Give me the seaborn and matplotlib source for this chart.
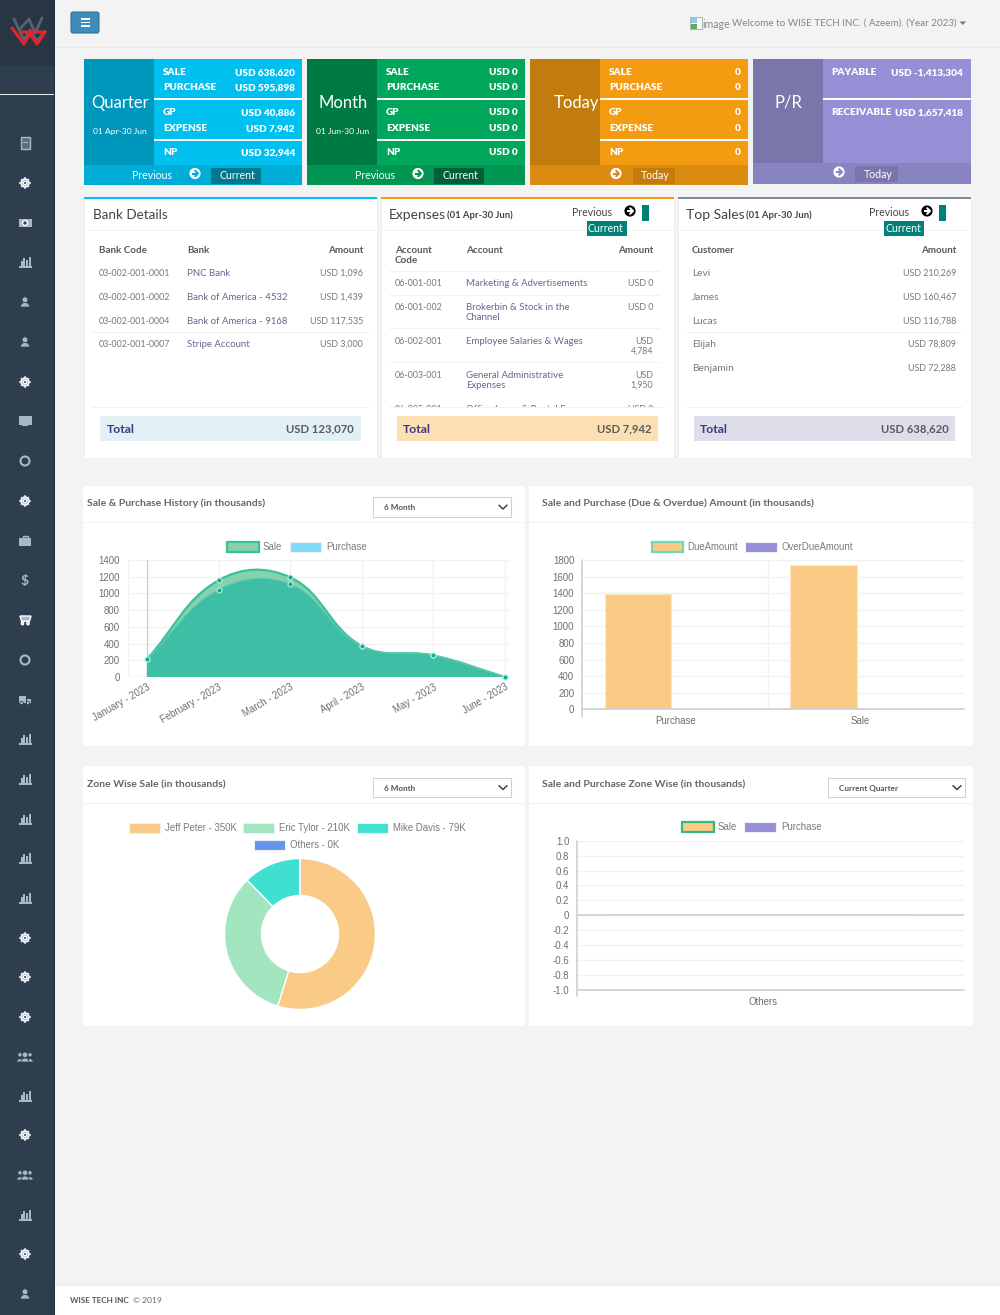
import numpy as np
import pandas as pd
import matplotlib
matplotlib.use("Agg")
import matplotlib.pyplot as plt
from matplotlib import patches
from matplotlib.path import Path as MplPath
import seaborn as sns

W, H = 1000, 1315
UI_FONT = ["Lato", "DejaVu Sans"]
CHART_FONT = "Liberation Sans"

sns.set_theme(style="white")
plt.rcParams["font.family"] = UI_FONT

PALETTE = {
    "page": "#F3F3F3", "side": "#2F3E4F", "side_top": "#283644", "icon": "#A9B8C8",
    "sand": "#F9CB86", "mint": "#A2E5BF", "turq": "#40E0D0", "blue": "#6495ED",
    "violet": "#9590D6", "sale": "#86D2AC", "sale_line": "#38C29C", "purchase": "#3EBFA5",
    "grid": "#F1F1F1", "axis": "#CFCFCF", "tick": "#6E6E6E", "link": "#66668F",
}

# ---- data ----
MONTHS = ["January - 2023", "February - 2023", "March - 2023", "April - 2023", "May - 2023", "June - 2023"]
SALE = [212, 1157, 1193, 371, 258, 0]
PURCHASE = [212, 1043, 1112, 371, 258, 0]

DUE = pd.DataFrame({
    "kind": ["Purchase", "Sale", "Purchase", "Sale"],
    "series": ["DueAmount", "DueAmount", "OverDueAmount", "OverDueAmount"],
    "amount": [1392, 1735, 0, 0],
})
ZONE_SALE = {"Jeff Peter": 350, "Eric Tylor": 210, "Mike Davis": 79, "Others": 0}
ZONE = pd.DataFrame({"zone": ["Others", "Others"], "series": ["Sale", "Purchase"], "amount": [0, 0]})

CARDS = [
    dict(x=84, title="Quarter", span="01 Apr-30 Jun", dark="#0097BC", main="#00C0EF", foot="#00ADD7", btn="#00788E",
         vals=["USD 638,620", "USD 595,898", "USD 40,886", "USD 7,942", "USD 32,944"]),
    dict(x=307, title="Month", span="01 Jun-30 Jun", dark="#007A43", main="#00A65A", foot="#009551", btn="#005F38",
         vals=["USD 0"] * 5),
    dict(x=530, title="Today", span=None, dark="#C27C0E", main="#F39C12", foot="#DB8C10", btn="#C27C0E",
         vals=["0"] * 5),
]
ROW_LABELS = ["SALE", "PURCHASE", "GP", "EXPENSE", "NP"]
ROW_Y = [72, 87, 112, 128, 152]

BANKS = [
    ("03-002-001-0001", "PNC Bank", "USD 1,096"),
    ("03-002-001-0002", "Bank of America - 4532", "USD 1,439"),
    ("03-002-001-0004", "Bank of America - 9168", "USD 117,535"),
    ("03-002-001-0007", "Stripe Account", "USD 3,000"),
]
EXPENSES = [
    (283, "06-001-001", "Marketing & Advertisements", "USD 0"),
    (307, "06-001-002", "Brokerbin & Stock in the\nChannel", "USD 0"),
    (341, "06-002-001", "Employee Salaries & Wages", "USD\n4,784"),
    (375, "06-003-001", "General Administrative\nExpenses", "USD\n1,950"),
    (409, "06-005-001", "Office Lease & Rental E", "USD 0"),
]
TOP_SALES = [("Levi", "USD 210,269"), ("James", "USD 160,467"), ("Lucas", "USD 116,788"),
             ("Elijah", "USD 78,809"), ("Benjamin", "USD 72,288")]

fig = plt.figure(figsize=(W / 100, H / 100), dpi=100, facecolor=PALETTE["page"])
page = fig.add_axes([0, 0, 1, 1])
page.set_xlim(0, W)
page.set_ylim(H, 0)
page.axis("off")


def rect(x0, y0, x1, y1, color, edge="none", lw=0, z=1):
    page.add_patch(patches.Rectangle((x0, y0), x1 - x0, y1 - y0, facecolor=color, edgecolor=edge, linewidth=lw, zorder=z))


def label(x, y, s, size=6.9, color="#777777", weight="normal", ha="left", va="center", family=None, linespacing=1.0):
    page.text(x, y + 0.5, s, fontsize=size, color=color, fontweight=weight, ha=ha, va=va, zorder=6,
              family=family or UI_FONT, linespacing=linespacing)


def arrow_btn(cx, cy, fg="white", bg="#00ADD7", r=5.6):
    page.add_patch(patches.Circle((cx, cy), r, facecolor=fg, edgecolor="none", zorder=5))
    page.plot([cx - 3, cx + 3], [cy, cy], color=bg, lw=1.5, zorder=6, solid_capstyle="butt")
    page.plot([cx + 0.2, cx + 3, cx + 0.2], [cy - 2.8, cy, cy + 2.8], color=bg, lw=1.5, zorder=6)


def px_axes(x0, y0, x1, y1):
    ax = fig.add_axes([x0 / W, 1 - y1 / H, (x1 - x0) / W, (y1 - y0) / H])
    ax.patch.set_alpha(0)
    return ax


def icon(kind, cx, cy):
    c = PALETTE["icon"]
    if kind == "bars":
        for dx, h in zip([-4.2, -1.6, 1, 3.6], [5, 8, 6, 9]):
            rect(cx + dx, cy + 4 - h, cx + dx + 2, cy + 4, c, z=2)
        rect(cx - 6, cy + 4.4, cx + 6.5, cy + 5.6, c, z=2)
    elif kind == "gear":
        for a in np.arange(0, np.pi, np.pi / 4):
            dx, dy = 5.6 * np.cos(a), 5.6 * np.sin(a)
            page.plot([cx - dx, cx + dx], [cy - dy, cy + dy], color=c, lw=1.5, zorder=2, solid_capstyle="butt")
        page.add_patch(patches.Circle((cx, cy), 4, facecolor=c, zorder=3))
        page.add_patch(patches.Circle((cx, cy), 1.7, facecolor=PALETTE["side"], zorder=4))
    elif kind == "circle":
        page.add_patch(patches.Circle((cx, cy), 4.5, facecolor="none", edgecolor=c, linewidth=1.5, zorder=2))
    elif kind == "dollar":
        label(cx, cy, "$", size=10, color=c, weight="bold", ha="center")
    elif kind in ("user", "users"):
        offs = [(-5, 3.2, 2.1), (5, 3.2, 2.1), (0, 4, 2.7)] if kind == "users" else [(0, 4.6, 2.9)]
        for dx, hw, hr in offs:
            page.add_patch(patches.Circle((cx + dx, cy - 2.2), hr, facecolor=c, edgecolor=PALETTE["side"], linewidth=0.5, zorder=3))
            page.add_patch(patches.Wedge((cx + dx, cy + 5), hw, 180, 360, facecolor=c, edgecolor=PALETTE["side"], linewidth=0.5, zorder=3))
    elif kind == "calc":
        rect(cx - 4.5, cy - 6, cx + 4.5, cy + 6, "#5B6D7F", c, 1, 2)
        for dy in (-3.5, -1, 1.5):
            rect(cx - 2.5, cy + dy, cx + 2.5, cy + dy + 0.8, c, z=3)
    elif kind == "money":
        rect(cx - 6.5, cy - 4, cx + 6.5, cy + 4, c, z=2)
        page.add_patch(patches.Circle((cx, cy), 2.4, facecolor=PALETTE["side"], zorder=3))
    elif kind == "monitor":
        rect(cx - 6.5, cy - 5, cx + 6.5, cy + 3.5, c, z=2)
        rect(cx - 3, cy + 4.2, cx + 3, cy + 5.4, c, z=2)
    elif kind == "case":
        rect(cx - 6, cy - 3, cx + 6, cy + 5, c, z=2)
        rect(cx - 2.5, cy - 5, cx + 2.5, cy - 3, "none", c, 1, 2)
    elif kind == "cart":
        page.add_patch(patches.Polygon([(cx - 5, cy - 4), (cx + 6, cy - 4), (cx + 4.5, cy + 1.2), (cx - 3.5, cy + 1.2)],
                                       facecolor=c, zorder=2))
        for dx in (-2.5, 3):
            page.add_patch(patches.Circle((cx + dx, cy + 3.5), 1.2, facecolor=c, zorder=2))
    elif kind == "truck":
        rect(cx - 6.5, cy - 4, cx + 1, cy + 2.5, c, z=2)
        rect(cx + 1.5, cy - 1.5, cx + 6, cy + 2.5, c, z=2)
        for dx in (-3.5, 3):
            page.add_patch(patches.Circle((cx + dx, cy + 3), 1.7, facecolor=c, edgecolor=PALETTE["side"], linewidth=0.5, zorder=3))


# ---- sidebar and header ----
rect(0, 0, 55, H, PALETTE["side"])
rect(0, 0, 55, 66, PALETTE["side_top"])
rect(0, 94, 55, 95.2, "#E6E9EC", z=2)
rect(54.4, 0, 55, H, "#22303D", z=2)
page.plot([14, 24, 30, 37, 45], [19, 40, 30, 41, 31], color="#59636F", lw=2, zorder=3)
page.plot([19, 29, 35, 42], [30, 19, 33, 18], color="#59636F", lw=2, zorder=3)
page.plot([12, 24, 30, 37, 45, 22], [28, 44, 34, 44, 32, 32], color="#E9212B", lw=2.2, zorder=4)

ICONS = ["calc", "gear", "money", "bars", "user", "user", "gear", "monitor", "circle", "gear", "case", "dollar",
         "cart", "circle", "truck", "bars", "bars", "bars", "bars", "bars", "gear", "gear", "gear", "users", "bars",
         "gear", "users", "bars", "gear", "user"]
ICON_Y = [143, 183, 223, 262, 302, 342, 382, 421, 461, 501, 541, 580, 620, 660, 700, 739, 779, 819, 858, 898, 938,
          977, 1017, 1057, 1096, 1135, 1175, 1215, 1254, 1294]
for kind, y in zip(ICONS, ICON_Y):
    icon(kind, 25, y)

rect(55, 47, W, 48, "#E9E9E9")
page.add_patch(patches.FancyBboxPatch((71, 12), 28, 21, boxstyle="round,pad=0,rounding_size=2", facecolor="#3F8BBA",
                                      edgecolor="#34739B", linewidth=0.8, zorder=2))
for y in (19, 22.5, 26):
    rect(80.5, y - 0.8, 90, y + 0.8, "white", z=3)
rect(690, 17, 702, 29, "#F7F9FB", "#A9B4BE", 0.7)
rect(691, 24, 697, 28.5, "#5FAF55", z=2)
rect(691, 18, 697, 23, "#9CC3EE", z=2)
label(702, 23.5, "image", size=7.7, color="#8A8A8A")
label(732, 23, "Welcome to WISE TECH INC. ( Azeem). (Year 2023)", size=7.1, color="#858585")
page.add_patch(patches.Polygon([(959.5, 21.5), (966, 21.5), (962.8, 25)], facecolor="#777777", edgecolor="none", zorder=7))

# ---- KPI cards ----
CARD_BOLD = dict(size=7.2, color="white", weight="heavy")
for card in CARDS:
    x = card["x"]
    rect(x, 59, x + 218, 184.5, card["main"])
    rect(x, 59, x + 70, 165, card["dark"], z=2)
    rect(x, 165, x + 218, 184.5, card["foot"], z=2)
    for sy in (99, 140):
        rect(x + 70, sy - 0.9, x + 218, sy + 0.9, "white", z=3)
    for lab, y, val in zip(ROW_LABELS, ROW_Y, card["vals"]):
        label(x + 79, y, lab, **CARD_BOLD)
        label(x + 211, y, val, ha="right", **CARD_BOLD)
    if card["span"]:
        label(x + 36, 102, card["title"], size=12, color="white", ha="center")
        label(x + 36, 131, card["span"], size=6.1, color="white", ha="center")
        label(x + 68, 175, "Previous", size=7.6, color="white", ha="center")
        arrow_btn(x + 111, 173.5, bg=card["foot"])
        rect(x + 127, 168, x + 177, 183.5, card["btn"], z=3)
        label(x + 153, 175, "Current", size=7.6, color="white", ha="center")
    else:
        label(x + 47, 102, card["title"], size=12, color="white", ha="center")
        arrow_btn(x + 86, 173.5, bg=card["foot"])
        rect(x + 103, 168, x + 145, 183.5, card["btn"], z=3)
        label(x + 125, 175, "Today", size=7.6, color="white", ha="center")

rect(753, 59, 970.5, 183.5, "#9590D6")
rect(753, 59, 823, 163, "#7A76AB", z=2)
rect(753, 163, 970.5, 183.5, "#8884C1", z=2)
rect(823, 98, 970.5, 99.8, "white", z=3)
label(831, 72, "PAYABLE", **CARD_BOLD)
label(963, 72, "USD -1,413,304", ha="right", **CARD_BOLD)
label(831, 112, "RECEIVABLE", **CARD_BOLD)
label(963, 112, "USD 1,657,418", ha="right", **CARD_BOLD)
label(788, 102, "P/R", size=12, color="white", ha="center")
arrow_btn(839, 172, bg="#8884C1")
rect(855, 166, 898, 182, "#7A76AB", z=3)
label(878, 173.5, "Today", size=7.6, color="white", ha="center")

# ---- table panels ----
for x0, x1, top in [(84, 377, "#00C0EF"), (381, 674, "#F39C12"), (678, 971, "#7F8C9D")]:
    rect(x0, 197, x1, 457.5, "white", "#EDEDED", 0.6)
    rect(x0, 196.5, x1, 198.6, top, z=2)
    rect(x0, 229.5, x1, 230.7, "#F4F4F4", z=2)
    rect(x0 + 8, 406.6, x1 - 8, 407.6, "#F2F2F2", z=4)

HEAD = "#5A5A5A"
TOTAL = "#3C3A80"
NUM = dict(size=6.4)
NAME = dict(size=6.9, color=PALETTE["link"])
TH = dict(size=7.1, color=HEAD, weight="bold")

# bank details
label(93, 214, "Bank Details", size=9.7, color="#444444")
label(99, 250, "Bank Code", **TH)
label(187, 250, "Bank", **TH)
label(363, 250, "Amount", ha="right", **TH)
for y, (code, bank, amount) in zip([273, 297, 321, 344], BANKS):
    label(99, y, code, **NUM)
    label(187, y, bank, **NAME)
    label(363, y, amount, ha="right", **NUM)
for y in (261.5, 284.5, 308.5, 332):
    rect(92, y, 369, y + 0.8, "#F2F2F2", z=2)
rect(100, 416, 361, 441, "#E2EFF5", z=2)
label(107, 428.5, "Total", size=8.8, color=TOTAL, weight="bold")
label(354, 428.5, "USD 123,070", size=8.1, color=HEAD, weight="bold", ha="right")

# expenses, last row is cut off by the scrolling table
label(389, 214, "Expenses", size=10, color="#444444")
label(447, 215, "(01 Apr-30 Jun)", size=6.8, color="#444444", weight="bold")
label(572, 212, "Previous", size=7.6, color="#444444")
arrow_btn(630, 211, fg="black", bg="white")
rect(642, 205, 649, 221, "#00827A", z=3)
rect(587, 221, 627, 236, "#00827A", z=3)
label(588, 228, "Current", size=7.6, color="white")
label(395, 255, "Account\nCode", linespacing=1.15, **TH)
label(466, 250, "Account", **TH)
label(653, 250, "Amount", ha="right", **TH)
for y, code, name, amount in EXPENSES:
    label(395, y, code, **NUM)
    label(466, y + 5 * name.count("\n"), name, linespacing=1.15, **NAME)
    label(653, y + 5 * amount.count("\n"), amount, ha="right", linespacing=1.15, **NUM)
for y in (271, 295, 328, 362, 395.5):
    rect(389, y, 660, y + 0.8, "#F2F2F2", z=2)
rect(382, 407, 673, 415, "white", z=7)
rect(389, 406.6, 665, 407.6, "#F2F2F2", z=8)
rect(397, 416, 658, 441, "#FCE0B4", z=2)
label(403, 428.5, "Total", size=8.8, color=TOTAL, weight="bold")
label(652, 428.5, "USD 7,942", size=8.1, color=HEAD, weight="bold", ha="right")

# top sales
label(686, 214, "Top Sales", size=10, color="#444444")
label(746, 215, "(01 Apr-30 Jun)", size=6.8, color="#444444", weight="bold")
label(869, 212, "Previous", size=7.6, color="#444444")
arrow_btn(927, 211, fg="black", bg="white")
rect(939, 205, 946, 221, "#00827A", z=3)
rect(884, 221, 924, 236, "#00827A", z=3)
label(885, 228, "Current", size=7.6, color="white")
label(692, 250, "Customer", **TH)
label(956, 250, "Amount", ha="right", **TH)
for y, (name, amount) in zip([273, 297, 321, 344, 368], TOP_SALES):
    label(692, y, name, size=7.3)
    label(956, y, amount, ha="right", **NUM)
for y in (261.5, 284.5, 308.5, 332, 355.5):
    rect(686, y, 963, y + 0.8, "#F2F2F2", z=2)
rect(694, 416, 955, 441, "#DEDEEA", z=2)
label(700, 428.5, "Total", size=8.8, color=TOTAL, weight="bold")
label(949, 428.5, "USD 638,620", size=8.1, color=HEAD, weight="bold", ha="right")

# ---- chart panels ----
for x0, x1, y0, y1, sep in [(83, 525, 486, 746, 522), (529, 973, 486, 746, 522),
                            (83, 525, 766, 1026, 803), (529, 973, 766, 1026, 803)]:
    rect(x0, y0, x1, y1, "white")
    rect(x0, sep, x1, sep + 1, "#F1F1F1", z=2)

TITLE = dict(size=7.5, color="#666666", weight="bold")
label(87, 503, "Sale & Purchase History (in thousands)", **TITLE)
label(542, 503, "Sale and Purchase (Due & Overdue) Amount (in thousands)", **TITLE)
label(87, 784, "Zone Wise Sale (in thousands)", **TITLE)
label(542, 784, "Sale and Purchase Zone Wise (in thousands)", **TITLE)

for x0, x1, y0, y1, text in [(373, 511, 497, 517, "6 Month"), (373, 511, 778, 797, "6 Month"),
                             (828, 965, 778, 797, "Current Quarter")]:
    rect(x0, y0, x1, y1, "white", "#CDD3DC", 0.8, z=2)
    label(x0 + 11, (y0 + y1) / 2, text, size=5.9, color="#555555", weight="bold")
    cy = (y0 + y1) / 2
    page.plot([x1 - 12, x1 - 8, x1 - 4], [cy - 1.8, cy + 2, cy - 1.8], color="#444444", lw=1.1, zorder=3)

rect(55, 1285, W, H, "white")
rect(55, 1285, W, 1286, "#E9E9E9", z=2)
label(70, 1300, "WISE TECH INC", size=5.9, color="#555555", weight="bold")
label(133, 1300, "\u00a9 2019", size=6.1, color="#666666")


def legend_box(x0, x1, y, color, edge=None, text="", tx=0):
    rect(x0, y - 5, x1, y + 5, color, edge or "#EAF0F5", 1.6 if edge else 0.8, z=3)
    label(tx, y - 0.5, text, size=6.9, color="#7A7A7A", family=CHART_FONT)


legend_box(227, 259, 547, PALETTE["sale"], PALETTE["sale_line"], "Sale", 263)
legend_box(290, 321, 547, "#7FDBF8", None, "Purchase", 326)
legend_box(652, 683, 547, PALETTE["sand"], "#6FD9B3", "DueAmount", 687)
legend_box(745, 777, 547, PALETTE["violet"], None, "OverDueAmount", 781)
legend_box(129, 160, 828, PALETTE["sand"], None, "Jeff Peter - 350K", 165)
legend_box(243, 274, 828, PALETTE["mint"], None, "Eric Tylor - 210K", 279)
legend_box(357, 388, 828, PALETTE["turq"], None, "Mike Davis - 79K", 393)
legend_box(254, 285, 845, PALETTE["blue"], None, "Others - 0K", 290)
legend_box(682, 714, 827, PALETTE["sand"], "#35B97D", "Sale", 718)
legend_box(744, 776, 827, PALETTE["violet"], None, "Purchase", 781)


def style_chart(ax, xgrid, yticks, ylabels=None):
    ax.set_yticks(yticks)
    ax.set_yticklabels(ylabels if ylabels else [str(t) for t in yticks])
    ax.grid(axis="y", color=PALETTE["grid"], lw=1)
    ax.set_xlabel("")
    ax.set_ylabel("")
    for side in ("top", "right", "bottom", "left"):
        ax.spines[side].set_visible(False)
    for gx in xgrid:
        ax.axvline(gx, color=PALETTE["grid"], lw=1, zorder=0)
    ax.tick_params(axis="both", length=0, labelsize=6.9, labelcolor=PALETTE["tick"])
    ax.tick_params(axis="y", pad=5.8)
    for t in ax.get_xticklabels() + ax.get_yticklabels():
        t.set_fontfamily(CHART_FONT)


def spline_path(ax, ys, tension=0.4):
    # same bezier control points as the web chart, worked out in pixels then put back in data units
    bbox = ax.get_window_extent()
    x0, x1 = ax.get_xlim()
    y0, y1 = ax.get_ylim()
    sx, sy = bbox.width / (x1 - x0), bbox.height / (y1 - y0)
    pts = np.column_stack([np.arange(len(ys)), ys]).astype(float)
    scaled = pts * [sx, sy]
    before, after = [], []
    for i in range(len(pts)):
        prev, cur, nxt = scaled[max(i - 1, 0)], scaled[i], scaled[min(i + 1, len(pts) - 1)]
        d01, d12 = np.linalg.norm(cur - prev), np.linalg.norm(nxt - cur)
        s = d01 + d12
        before.append((cur - tension * d01 / s * (nxt - prev)) / [sx, sy])
        after.append((cur + tension * d12 / s * (nxt - prev)) / [sx, sy])
    verts, codes = [tuple(pts[0])], [MplPath.MOVETO]
    for i in range(len(pts) - 1):
        verts += [tuple(after[i]), tuple(before[i + 1]), tuple(pts[i + 1])]
        codes += [MplPath.CURVE4] * 3
    return verts, codes


def area(ax, ys, fill, line, lw, z):
    verts, codes = spline_path(ax, ys)
    closed = verts + [(len(ys) - 1, 0), (0, 0), (0, ys[0])]
    ax.add_patch(patches.PathPatch(MplPath(closed, codes + [MplPath.LINETO] * 3), facecolor=fill, edgecolor="none", zorder=z))
    ax.add_patch(patches.PathPatch(MplPath(verts, codes), facecolor="none", edgecolor=line, linewidth=lw, zorder=z + 0.1))


# sale & purchase history
ax = px_axes(127.6, 560, 509, 677)
ax.set_xlim(-0.27, 5.056)
ax.set_ylim(0, 1400)
history = pd.DataFrame({"month": range(6), "Sale": SALE, "Purchase": PURCHASE})
area(ax, SALE, PALETTE["sale"], PALETTE["sale_line"], 1.6, 3)
area(ax, PURCHASE, PALETTE["purchase"], "#5FC9AE", 0.8, 3.5)
for col in ("Sale", "Purchase"):
    sns.scatterplot(data=history, x="month", y=col, ax=ax, s=13, color="#00B294", edgecolor="#CFEFE7", linewidth=0.7,
                    zorder=5, clip_on=False)
style_chart(ax, [-0.27, 1, 2, 3, 4, 5], [0, 200, 400, 600, 800, 1000, 1200, 1400])
ax.axvline(0, color="#CFCFCF", lw=1, zorder=1)
ax.axhline(0, color="#E4E4E4", lw=1, zorder=1)
ax.set_xticks(range(6))
ax.set_xticklabels(MONTHS, rotation=30, ha="right", rotation_mode="anchor", fontfamily=CHART_FONT)
ax.set_xlim(-0.27, 5.056)
ax.set_ylim(0, 1400)

# due and overdue bars
ax = px_axes(582.3, 560, 964, 709.3)
sns.barplot(data=DUE, x="kind", y="amount", hue="series", ax=ax, width=0.8, gap=0.1, legend=False, saturation=1,
            palette={"DueAmount": PALETTE["sand"], "OverDueAmount": PALETTE["violet"]},
            edgecolor="#FCE6C6", linewidth=0.8, zorder=3)
style_chart(ax, [0.5], [0, 200, 400, 600, 800, 1000, 1200, 1400, 1600, 1800])
ax.set_xlim(-0.5, 1.557)
ax.set_ylim(0, 1800)
ax.axhline(0, color=PALETTE["axis"], lw=1.2, zorder=4, clip_on=False)
ax.axvline(-0.5, color=PALETTE["axis"], lw=1.2, zorder=4, clip_on=False, ymin=-0.05)
ax.tick_params(axis="x", pad=5)

# zone wise donut
ax = px_axes(220, 854, 380, 1014)
ax.pie(list(ZONE_SALE.values()), colors=[PALETTE["sand"], PALETTE["mint"], PALETTE["turq"], PALETTE["blue"]],
       startangle=90, counterclock=False, radius=75.5 / 80,
       wedgeprops=dict(width=37 / 80, edgecolor="white", linewidth=1))
ax.set_xlim(-1, 1)
ax.set_ylim(-1, 1)

# empty zone wise chart
ax = px_axes(577.3, 840.7, 964, 990)
sns.barplot(data=ZONE, x="zone", y="amount", hue="series", ax=ax, legend=False, saturation=1,
            palette={"Sale": PALETTE["sand"], "Purchase": PALETTE["violet"]})
ticks = [round(v, 1) for v in np.arange(-1, 1.01, 0.2)]
names = ["0" if v == 0 else f"{v:.1f}" for v in ticks]
style_chart(ax, [], ticks, names)
ax.set_xlim(-0.5, 0.543)
ax.set_ylim(-1, 1)
ax.axhline(0, color=PALETTE["axis"], lw=1.2, zorder=4)
ax.axhline(-1, color=PALETTE["axis"], lw=1.2, zorder=4, clip_on=False)
ax.axvline(-0.5, color=PALETTE["axis"], lw=1.2, zorder=4, clip_on=False, ymin=-0.04)
ax.tick_params(axis="x", pad=5)

fig.savefig("out.png", dpi=100, facecolor=fig.get_facecolor())
